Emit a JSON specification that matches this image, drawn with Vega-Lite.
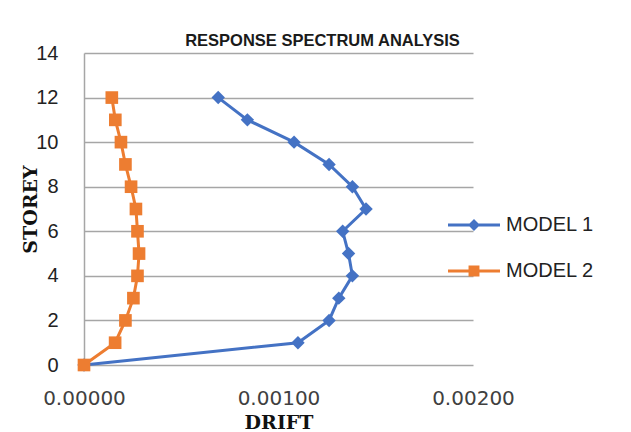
{
  "$schema": "https://vega.github.io/schema/vega-lite/v6.json",
  "autosize": {"type": "none"},
  "width": 389,
  "height": 312,
  "padding": {"left": 84, "top": 53, "right": 158, "bottom": 67},
  "background": "white",
  "config": {"view": {"stroke": null}},
  "title": {
    "text": "RESPONSE SPECTRUM ANALYSIS",
    "font": "Liberation Sans",
    "fontSize": 16.5,
    "fontWeight": "bold",
    "color": "#1a1a1a",
    "anchor": "middle",
    "dx": 44,
    "dy": 14,
    "offset": 8
  },
  "data": {
    "values": [
      {"model": "MODEL 1", "storey": 0, "drift": 0},
      {"model": "MODEL 1", "storey": 1, "drift": 0.00110},
      {"model": "MODEL 1", "storey": 2, "drift": 0.00126},
      {"model": "MODEL 1", "storey": 3, "drift": 0.00131},
      {"model": "MODEL 1", "storey": 4, "drift": 0.00138},
      {"model": "MODEL 1", "storey": 5, "drift": 0.00136},
      {"model": "MODEL 1", "storey": 6, "drift": 0.00133},
      {"model": "MODEL 1", "storey": 7, "drift": 0.00145},
      {"model": "MODEL 1", "storey": 8, "drift": 0.00138},
      {"model": "MODEL 1", "storey": 9, "drift": 0.00126},
      {"model": "MODEL 1", "storey": 10, "drift": 0.00108},
      {"model": "MODEL 1", "storey": 11, "drift": 0.00084},
      {"model": "MODEL 1", "storey": 12, "drift": 0.00069},
      {"model": "MODEL 2", "storey": 0, "drift": 0},
      {"model": "MODEL 2", "storey": 1, "drift": 0.000160},
      {"model": "MODEL 2", "storey": 2, "drift": 0.000213},
      {"model": "MODEL 2", "storey": 3, "drift": 0.000254},
      {"model": "MODEL 2", "storey": 4, "drift": 0.000275},
      {"model": "MODEL 2", "storey": 5, "drift": 0.000283},
      {"model": "MODEL 2", "storey": 6, "drift": 0.000275},
      {"model": "MODEL 2", "storey": 7, "drift": 0.000267},
      {"model": "MODEL 2", "storey": 8, "drift": 0.000242},
      {"model": "MODEL 2", "storey": 9, "drift": 0.000213},
      {"model": "MODEL 2", "storey": 10, "drift": 0.000190},
      {"model": "MODEL 2", "storey": 11, "drift": 0.000161},
      {"model": "MODEL 2", "storey": 12, "drift": 0.000143}
    ]
  },
  "encoding": {
    "x": {
      "field": "drift",
      "type": "quantitative",
      "scale": {"domain": [0, 0.002], "nice": false, "zero": false},
      "axis": {
        "title": "DRIFT",
        "values": [0, 0.001, 0.002],
        "format": ".5f",
        "grid": false,
        "domain": false,
        "ticks": false,
        "labelFlush": false,
        "labelFont": "DejaVu Sans",
        "labelFontSize": 20,
        "labelColor": "#404040",
        "labelPadding": 23,
        "titleFont": "DejaVu Serif",
        "titleFontWeight": "bold",
        "titleFontSize": 19,
        "titleColor": "#111111",
        "titleY": 57,
        "titleBaseline": "middle"
      }
    },
    "y": {
      "field": "storey",
      "type": "quantitative",
      "scale": {"domain": [0, 14], "nice": false},
      "axis": {
        "title": "STOREY",
        "values": [0, 2, 4, 6, 8, 10, 12, 14],
        "grid": true,
        "gridColor": "#a6a6a6",
        "gridWidth": 1.5,
        "domain": true,
        "domainColor": "#a6a6a6",
        "domainWidth": 1.5,
        "ticks": false,
        "labelFont": "Liberation Sans",
        "labelFontSize": 20,
        "labelColor": "#222222",
        "labelPadding": 26,
        "titleFont": "DejaVu Serif",
        "titleFontWeight": "bold",
        "titleFontSize": 19,
        "titleColor": "#111111",
        "titleX": -54,
        "titleY": 156,
        "titleAngle": -90,
        "titleAlign": "center",
        "titleBaseline": "middle"
      }
    },
    "order": {"field": "storey", "type": "quantitative"}
  },
  "layer": [
    {
      "transform": [{"filter": "datum.model === 'MODEL 1'"}],
      "mark": {"type": "line", "strokeWidth": 3, "color": "#4472C4"}
    },
    {
      "transform": [{"filter": "datum.model === 'MODEL 1'"}],
      "mark": {"type": "point", "shape": "diamond", "filled": true, "opacity": 1, "size": 180, "color": "#4472C4"}
    },
    {
      "transform": [{"filter": "datum.model === 'MODEL 2'"}],
      "mark": {"type": "line", "strokeWidth": 3, "color": "#ED7D31"}
    },
    {
      "transform": [{"filter": "datum.model === 'MODEL 2'"}],
      "mark": {"type": "point", "shape": "square", "filled": true, "opacity": 1, "size": 160, "color": "#ED7D31"}
    },
    {
      "mark": {"type": "point", "filled": true, "opacity": 0},
      "encoding": {
        "color": {
          "field": "model",
          "type": "nominal",
          "scale": {"domain": ["MODEL 1", "MODEL 2"], "range": ["#4472C4", "#ED7D31"]},
          "legend": {
            "title": null,
            "orient": "none",
            "legendX": 364,
            "legendY": 146,
            "padding": 0,
            "symbolSize": 2704,
            "symbolOpacity": 1,
            "symbolStrokeWidth": 0,
            "labelFont": "Liberation Sans",
            "labelFontSize": 20,
            "labelColor": "#222222",
            "labelOffset": 6,
            "rowPadding": 10
          }
        },
        "shape": {
          "field": "model",
          "type": "nominal",
          "scale": {
            "domain": ["MODEL 1", "MODEL 2"],
            "range": [
              "M-1,-0.058H1V0.058H-1Z M0,-0.23L0.23,0L0,0.23L-0.23,0Z",
              "M-1,-0.058H1V0.058H-1Z M-0.21,-0.21H0.21V0.21H-0.21Z"
            ]
          },
          "legend": {
            "title": null,
            "orient": "none",
            "legendX": 364,
            "legendY": 146,
            "padding": 0,
            "symbolSize": 2704,
            "symbolOpacity": 1,
            "symbolStrokeWidth": 0,
            "labelFont": "Liberation Sans",
            "labelFontSize": 20,
            "labelColor": "#222222",
            "labelOffset": 6,
            "rowPadding": 10
          }
        }
      }
    }
  ]
}
